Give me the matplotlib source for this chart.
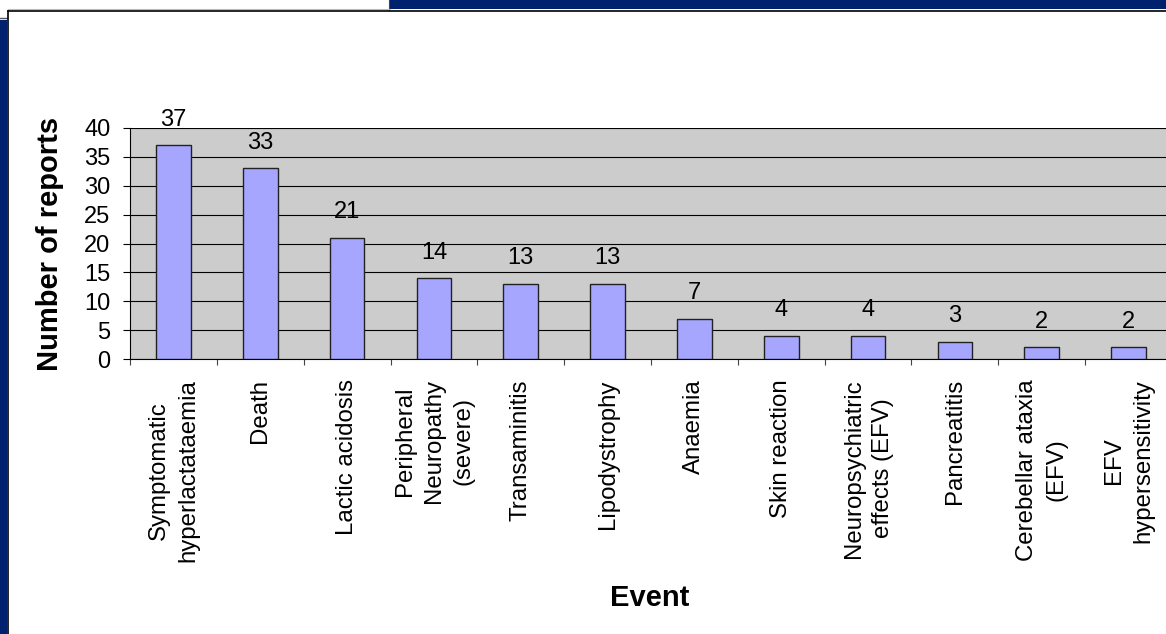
import numpy as np
import matplotlib
matplotlib.use("Agg")
import matplotlib.pyplot as plt
from matplotlib.patches import Rectangle
from matplotlib.lines import Line2D

# ------------------------------------------------------------------
# Data
# ------------------------------------------------------------------
events = [
    "Symptomatic\nhyperlactataemia",
    "Death",
    "Lactic acidosis",
    "Peripheral\nNeuropathy\n(severe)",
    "Transaminitis",
    "Lipodystrophy",
    "Anaemia",
    "Skin reaction",
    "Neuropsychiatric\neffects (EFV)",
    "Pancreatitis",
    "Cerebellar ataxia\n(EFV)",
    "EFV\nhypersensitivity",
]
reports = [37, 33, 21, 14, 13, 13, 7, 4, 4, 3, 2, 2]
yticks = [0, 5, 10, 15, 20, 25, 30, 35, 40]

# ------------------------------------------------------------------
# Style
# ------------------------------------------------------------------
plt.rcParams["font.family"] = ["Liberation Sans", "DejaVu Sans"]
W, H = 1166, 634
navy = "#00216e"
bar_color = "#a6a6ff"
plot_bg = "#cccccc"


def fx(px):
    return px / W


def fy(py):
    return 1 - py / H


fig = plt.figure(figsize=(W / 100, H / 100), dpi=100)

# slide-like frame decorations
fig.add_artist(Rectangle((fx(0), fy(H)), fx(7), fy(20) - fy(H), transform=fig.transFigure,
                         color=navy, lw=0))
fig.add_artist(Line2D([fx(0), fx(7)], [fy(17.5), fy(17.5)], transform=fig.transFigure,
                      color="#555555", lw=1.0))
fig.add_artist(Rectangle((fx(390), fy(9)), fx(W - 390), fy(0) - fy(9), transform=fig.transFigure,
                         color=navy, lw=0))
fig.add_artist(Line2D([fx(389), fx(389)], [fy(0), fy(10)], transform=fig.transFigure,
                      color="#444444", lw=0.8))
fig.add_artist(Line2D([fx(8), fx(390)], [fy(9), fy(9)], transform=fig.transFigure,
                      color="#bbbbbb", lw=0.8))
fig.add_artist(Line2D([fx(8), fx(W)], [fy(10.5), fy(10.5)], transform=fig.transFigure,
                      color="black", lw=1.2))
fig.add_artist(Line2D([fx(8.2), fx(8.2)], [fy(10.5), fy(H)], transform=fig.transFigure,
                      color="black", lw=1.2))

# plot area
left, right, top, bottom = 130, 1172, 128, 359
ax = fig.add_axes([fx(left), fy(bottom), fx(right - left), fy(top) - fy(bottom)])
ax.set_facecolor(plot_bg)

x = np.arange(len(events))
ax.bar(x, reports, width=0.4, color=bar_color, edgecolor="#222222", linewidth=1.0, zorder=3)

for xi, v in zip(x, reports):
    ax.annotate(str(v), (xi, v), xytext=(0, 14), textcoords="offset points",
                ha="center", va="baseline", fontsize=17, zorder=4)

ax.set_xlim(-0.5, len(events) - 0.5)
ax.set_ylim(0, 40)
ax.set_yticks(yticks)
ax.yaxis.grid(True, color="black", lw=0.8, zorder=1)
ax.set_axisbelow(True)

ax.set_xticks(x)
ax.set_xticklabels(events, rotation=90, ha="center", va="top", multialignment="center",
                   fontsize=17.3, linespacing=1.42)
ax.set_xticks(np.arange(-0.5, len(events)), minor=True)
ax.tick_params(axis="x", which="major", length=0, pad=14.5)
ax.tick_params(axis="x", which="minor", length=4.5, width=0.8, color="#444444")
ax.tick_params(axis="y", length=5, width=0.8, labelsize=17, pad=9)

for s in ["top", "right"]:
    ax.spines[s].set_visible(False)
ax.spines["left"].set_color("black")
ax.spines["bottom"].set_color("black")
ax.spines["left"].set_linewidth(0.8)
ax.spines["bottom"].set_linewidth(0.8)

fig.text(fx(50), fy(244), "Number of reports", rotation=90, ha="center", va="center",
         fontsize=21, fontweight="bold")
fig.text(fx(650), fy(598), "Event", ha="center", va="center", fontsize=21, fontweight="bold")

fig.savefig("out.png", dpi=100)
